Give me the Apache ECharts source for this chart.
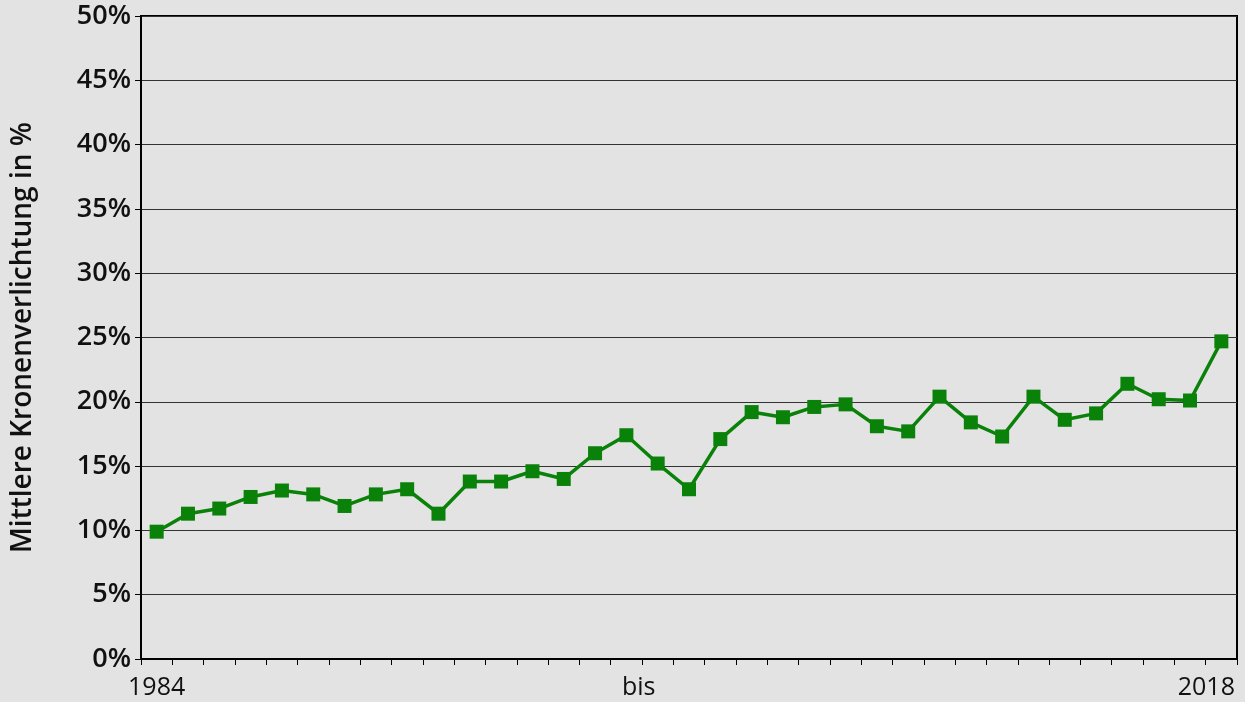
<!DOCTYPE html>
<html>
<head>
<meta charset="utf-8">
<script src="https://cdn.jsdelivr.net/npm/echarts@6/dist/echarts.min.js"></script>
<style>
  html, body { margin: 0; padding: 0; background: #e3e3e3; }
  #main { width: 1245px; height: 702px; }
</style>
</head>
<body>
<div id="main"></div>
<script>
var years = [];
for (var y = 1984; y <= 2018; y++) years.push(String(y));

// mittlere Kronenverlichtung in %
var verlichtung = [9.9, 11.3, 11.7, 12.6, 13.1, 12.8, 11.9, 12.8, 13.2, 11.3,
                   13.8, 13.8, 14.6, 14.0, 16.0, 17.4, 15.2, 13.2, 17.1, 19.2,
                   18.8, 19.6, 19.8, 18.1, 17.7, 20.4, 18.4, 17.3, 20.4, 18.6,
                   19.1, 21.4, 20.2, 20.1, 24.7];

// sichtbare Beschriftungen der x-Achse (Index -> Text)
var xLabels = { 0: '1984', 16: 'bis', 34: '2018' };

var myChart = echarts.init(document.getElementById('main'));

var option = {
    backgroundColor: '#e3e3e3',
    textStyle: { fontFamily: 'Open Sans' },
    grid: {
        left: 141,
        right: 8,
        top: 16,
        bottom: 43,
        outerBoundsMode: 'none',
        containLabel: false,
        show: true,
        borderColor: '#000',
        borderWidth: 2,
        backgroundColor: 'transparent'
    },
    xAxis: {
        type: 'category',
        data: years,
        boundaryGap: true,
        axisLine: { lineStyle: { color: '#000', width: 2 } },
        axisTick: { show: true, interval: 0, length: 6, lineStyle: { color: '#000', width: 1 } },
        axisLabel: {
            interval: 0,
            margin: 16,
            color: '#111',
            fontSize: 25,
            formatter: function (val, idx) {
                if (idx === 16) return '{bis|bis}';
                if (idx === 34) return '{end|2018}';
                return xLabels[idx] || '';
            },
            rich: {
                bis: { fontSize: 25, color: '#111', padding: [0, 38, 0, 0] },
                end: { fontSize: 25, color: '#111', padding: [0, 30, 0, 0] }
            }
        },
        splitLine: { show: false }
    },
    yAxis: {
        type: 'value',
        min: 0,
        max: 50,
        interval: 5,
        name: 'Mittlere Kronenverlichtung in %',
        nameLocation: 'middle',
        nameRotate: 90,
        nameGap: 104,
        nameTextStyle: { fontSize: 28, fontWeight: 600, color: '#111' },
        axisLine: { show: true, lineStyle: { color: '#000', width: 2 } },
        axisTick: { show: true, length: 6, lineStyle: { color: '#000' } },
        axisLabel: { formatter: '{value}%', fontSize: 27, fontWeight: 600, color: '#111', margin: 10 },
        splitLine: { lineStyle: { color: '#333', width: 1 } }
    },
    series: [{
        type: 'line',
        data: verlichtung,
        symbol: 'rect',
        symbolSize: 14,
        lineStyle: { color: '#0a820a', width: 3.5 },
        itemStyle: { color: '#0a820a' },
        animation: false
    }]
};

myChart.setOption(option);
</script>
</body>
</html>
